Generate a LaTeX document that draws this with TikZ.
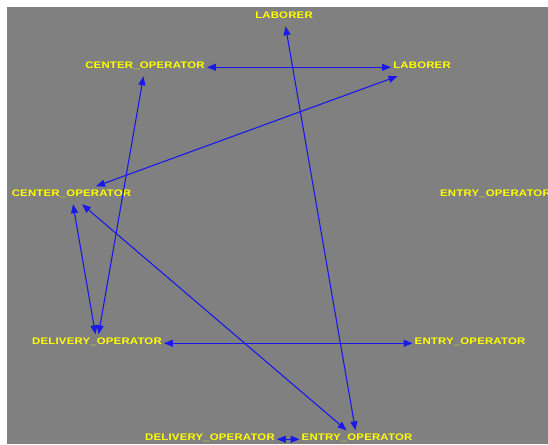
\documentclass[tikz,border=0pt]{standalone}
\usepackage{fontspec}
\newfontfamily\lblfont[FakeStretch=1.2,LetterSpace=2]{Liberation Sans}
\usetikzlibrary{arrows.meta}
\definecolor{bggray}{RGB}{128,128,128}
\definecolor{lblyellow}{RGB}{255,255,0}
\definecolor{edgeblue}{RGB}{25,25,235}
\tikzset{
  lbl/.style={anchor=base, inner xsep=2pt, inner ysep=0pt, text height=9.9pt, text depth=7.6pt,
    font=\lblfont\fontsize{9.5}{10}\selectfont\bfseries, text=lblyellow},
  link/.style={draw=edgeblue, line width=1.1pt, {Triangle[length=9pt,width=7pt]}-{Triangle[length=9pt,width=7pt]}}
}
\begin{document}
\begin{tikzpicture}[x=1pt,y=-1pt]
\fill[white] (0,0) rectangle (548,444);
\useasboundingbox (0,0) rectangle (548,444);
\fill[bggray] (7,7) rectangle (548,444);
\node[lbl] (L1) at (284,18.4) {LABORER};
\node[lbl] (C1) at (145,68.4) {CENTER\_OPERATOR};
\node[lbl] (L2) at (422,68.4) {LABORER};
\node[lbl] (C2) at (71.5,196.4) {CENTER\_OPERATOR};
\node[lbl, anchor=base west] (E1) at (438,196.4) {ENTRY\_OPERATOR};
\node[lbl] (D1) at (97,344.4) {DELIVERY\_OPERATOR};
\node[lbl] (E2) at (470,344.4) {ENTRY\_OPERATOR};
\node[lbl] (D2) at (210,440.4) {DELIVERY\_OPERATOR};
\node[lbl] (E3) at (357,440.4) {ENTRY\_OPERATOR};
\draw[link] (C1) -- (L2);
\draw[link] (L1) -- (E3);
\draw[link] (L2) -- (C2);
\draw[link] (C1) -- (D1);
\draw[link] (C2) -- (D1);
\draw[link] (C2) -- (E3);
\draw[link] (D1) -- (E2);
\draw[link] (D2) -- (E3);
\end{tikzpicture}
\end{document}
